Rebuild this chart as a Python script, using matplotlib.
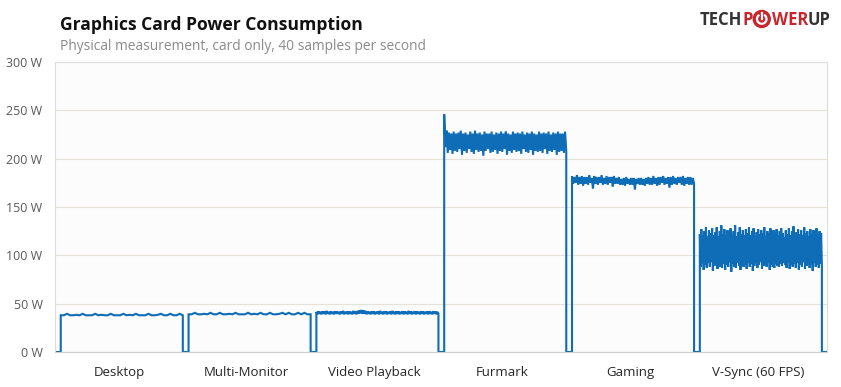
import numpy as np
import matplotlib
matplotlib.use("Agg")
from matplotlib import pyplot as plt
from matplotlib.patches import Circle, Arc

tests = ["Desktop", "Multi-Monitor", "Video Playback", "Furmark", "Gaming", "V-Sync (60 FPS)"]

desktop = [38, 38, 39.5, 38, 38, 38.5, 38, 39.5, 38, 38, 38, 39.5, 38, 38.5, 38, 38, 39.5, 38, 38, 38,
           39.5, 38, 38.5, 38, 39.5, 38, 38, 38, 39.5, 38, 38, 38.5, 39.5, 38, 38, 39.5, 38, 38, 39.5, 38]
multi_monitor = [39, 39, 40.5, 39, 39, 39.5, 39, 40.5, 39, 39, 40.5, 39, 39, 39.5, 39, 40.5, 39, 39, 39, 40.5,
                 39, 39.5, 39, 40.5, 39, 39, 40.5, 39, 39, 39.5, 40.5, 39, 40.5, 39, 39, 40.5, 39, 40.5, 39, 39]
video = [41.5, 39, 42, 39.5, 41.5, 39, 42, 39.5, 42, 39, 42.5, 39.5, 41.5, 39, 42, 39.5, 41.5, 39, 42, 39.5,
         42, 39.5, 41.5, 39, 42, 39.5, 42.5, 39, 41.5, 39.5, 42, 39, 42, 39.5, 41.5, 39, 42.5, 39.5, 42, 39,
         42.5, 39.5, 43, 40, 43.5, 39.5, 43, 39.5, 42.5, 39, 42, 39.5, 41.5, 39, 42, 39.5, 42, 39, 41.5, 39.5,
         42, 39, 42.5, 39.5, 41.5, 39, 42, 39.5, 42, 39, 41.5, 39.5, 42, 39, 42.5, 39.5, 41.5, 39, 42, 39.5,
         42, 39, 41.5, 39.5, 42, 39, 42, 39.5, 41.5, 39, 42.5, 39.5, 42, 39, 41.5, 39.5, 42, 39, 42, 39.5,
         41.5, 39, 42, 39.5, 42, 39, 41.5, 39.5, 42, 39, 42, 39.5, 41.5, 39, 42, 39.5, 42, 39, 41.5, 39.5]
furmark = [246, 212, 229, 206, 227, 209, 226, 205, 228, 208, 226, 207, 227, 210, 229, 204, 226, 208, 227, 206,
           225, 210, 228, 207, 226, 205, 229, 209, 226, 207, 227, 208, 225, 203, 228, 208, 226, 210, 226, 206,
           228, 207, 225, 209, 227, 205, 226, 208, 228, 207, 226, 210, 228, 204, 226, 208, 225, 206, 228, 209,
           226, 207, 227, 208, 226, 205, 228, 210, 225, 207, 227, 206, 226, 209, 228, 204, 226, 208, 225, 207,
           228, 208, 226, 206, 227, 210, 226, 205, 228, 208, 225, 207, 227, 209, 226, 204, 228, 207, 226, 208,
           226, 206, 228, 208]
gaming = [182, 174, 181, 175, 183, 173, 181, 174, 182, 172, 181, 174, 181, 173, 183, 175, 180, 169, 182, 174,
          181, 173, 181, 175, 183, 173, 180, 174, 182, 173, 181, 175, 181, 171, 182, 174, 180, 174, 181, 173,
          179, 173, 180, 172, 181, 174, 179, 173, 180, 173, 180, 168, 179, 174, 180, 173, 180, 173, 179, 172,
          180, 174, 181, 173, 180, 173, 182, 174, 180, 172, 181, 173, 181, 175, 182, 173, 180, 174, 181, 170,
          181, 173, 182, 174, 180, 173, 181, 175, 181, 173, 182, 172, 180, 174, 181, 173, 181, 173, 180, 174]
vsync = [122, 88, 127, 92, 121, 85, 125, 90, 129, 87, 120, 92, 126, 88, 123, 93, 128, 84, 121, 89,
         124, 91, 129, 86, 120, 92, 125, 88, 131, 87, 122, 91, 127, 85, 121, 90, 126, 88, 124, 93,
         128, 83, 121, 91, 125, 88, 131, 87, 120, 92, 124, 89, 129, 85, 122, 91, 126, 88, 121, 90,
         127, 86, 123, 92, 129, 88, 121, 91, 125, 84, 128, 89, 120, 92, 124, 87, 127, 90, 122, 93,
         126, 86, 123, 89, 129, 91, 120, 88, 125, 92, 123, 85, 128, 90, 121, 88, 126, 87, 124, 91,
         127, 89, 121, 88, 125, 91, 128, 89, 123, 92, 119, 90, 126, 87, 122, 93, 128, 86, 121, 90,
         125, 88, 130, 91, 120, 87, 124, 92, 127, 85, 122, 90, 126, 88, 121, 93, 129, 86, 123, 89,
         125, 91, 120, 87, 127, 90, 122, 84, 126, 92, 124, 88, 128, 90, 121, 87, 125, 91, 123, 89]
series = [desktop, multi_monitor, video, furmark, gaming, vsync]

yticks = [0, 50, 100, 150, 200, 250, 300]

blue = "#0f6cb6"
W, H = 841, 387
fig = plt.figure(figsize=(W / 100, H / 100), dpi=100)
fig.patch.set_facecolor("white")
ax = fig.add_axes([55 / W, 1 - 352 / H, (827 - 55) / W, (352 - 62) / H])
ax.set_facecolor("#fcfcfc")

# one run per unit of x; card is off (0 W) for a moment between runs
on, off, tail = 0.045, 1.0, 0.04
xs, ys = [0.0], [0.0]
for i, vals in enumerate(series):
    x = np.linspace(i + on, i + off, len(vals))
    xs += [i + on] + list(x) + [i + off]
    ys += [0] + list(vals) + [0]
xs.append(len(series) + tail)
ys.append(0)
ax.plot(xs, ys, color=blue, lw=1.5, solid_joinstyle="miter")

ax.set_xlim(0, len(series) + tail)
ax.set_ylim(0, 300)
ax.set_yticks(yticks)
ax.set_yticklabels([f"{v} W" for v in yticks])
ax.set_xticks(np.arange(len(series)) + 0.5)
ax.set_xticklabels(tests)
ax.grid(axis="y", color="#e6e2da", lw=0.8)
ax.set_axisbelow(True)
for s in ["left", "top", "right"]:
    ax.spines[s].set_color("#dcdcdc")
    ax.spines[s].set_linewidth(0.8)
ax.spines["bottom"].set_color("#cfcfcf")
ax.tick_params(axis="y", length=0, pad=9, labelsize=9, labelcolor="#595959")
ax.tick_params(axis="x", length=0, pad=10, labelsize=9.5, labelcolor="#262626")
for lab in ax.get_xticklabels() + ax.get_yticklabels():
    lab.set_fontfamily("Open Sans")

fig.text(60 / W, 1 - 30 / H, "Graphics Card Power Consumption", fontsize=12.6, fontweight="bold",
         family="Open Sans", color="#111111", va="baseline")
fig.text(60 / W, 1 - 50 / H, "Physical measurement, card only, 40 samples per second", fontsize=9.9,
         family="Open Sans", color="#8a8a8a", va="baseline")

# logo
red, dark = "#c8262d", "#333333"
fig.canvas.draw()
r = fig.canvas.get_renderer()
x0 = 700
for piece, col in [("TECH", dark), ("P", red), (None, red), ("WER", red), ("UP", dark)]:
    if piece is None:
        cx, cy, rad = (x0 + 9) / 100, (H - 19) / 100, 0.085
        fig.add_artist(Circle((cx, cy), rad, transform=fig.dpi_scale_trans, color=red))
        fig.add_artist(Arc((cx, cy), 0.095, 0.095, theta1=120, theta2=60, transform=fig.dpi_scale_trans,
                           color="white", lw=1.6))
        fig.add_artist(plt.Line2D([cx, cx], [cy, cy + 0.055], transform=fig.dpi_scale_trans,
                                  color="white", lw=1.6))
        x0 += 19
        continue
    t = fig.text(x0 / W, 1 - 25 / H, piece, fontsize=12, fontweight="bold", family="Open Sans",
                 color=col, va="baseline")
    x0 += t.get_window_extent(r).width

fig.savefig("out.png", dpi=100)
